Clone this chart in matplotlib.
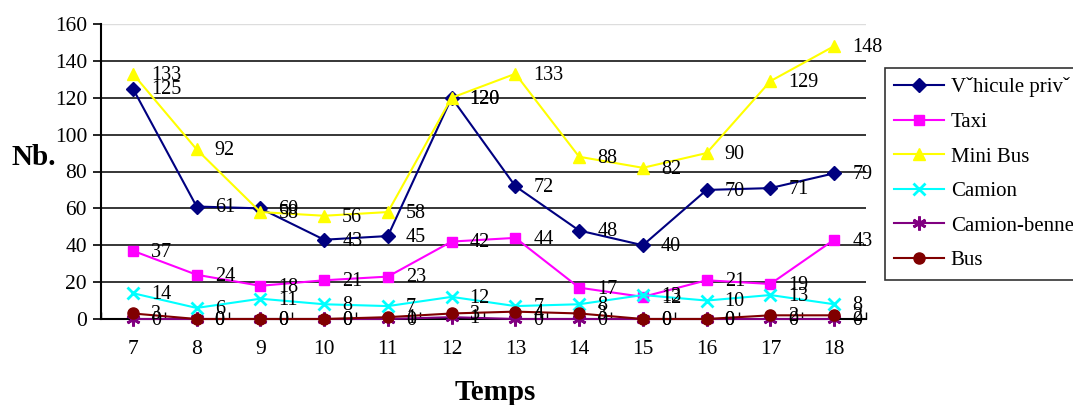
import matplotlib
matplotlib.use("Agg")
import matplotlib.pyplot as plt
import numpy as np

plt.rcParams["font.family"] = ["Liberation Serif", "DejaVu Serif"]

hours = [7, 8, 9, 10, 11, 12, 13, 14, 15, 16, 17, 18]

vehicule_prive = [125, 61, 60, 43, 45, 120, 72, 48, 40, 70, 71, 79]
taxi = [37, 24, 18, 21, 23, 42, 44, 17, 12, 21, 19, 43]
mini_bus = [133, 92, 58, 56, 58, 120, 133, 88, 82, 90, 129, 148]
camion = [14, 6, 11, 8, 7, 12, 7, 8, 13, 10, 13, 8]
camion_benne = [0, 0, 0, 0, 0, 1, 0, 0, 0, 0, 0, 0]
bus = [3, 0, 0, 0, 1, 3, 4, 3, 0, 0, 2, 2]

series = [
    ("V\u02c7hicule priv\u02c7", vehicule_prive, "#000080", "D", 7),
    ("Taxi", taxi, "#FF00FF", "s", 7),
    ("Mini Bus", mini_bus, "#FFFF00", "^", 9),
    ("Camion", camion, "#00FFFF", "x", 9),
    ("Camion-benne", camion_benne, "#800080", (6, 2, 0), 10),
    ("Bus", bus, "#800000", "o", 8),
]

fig = plt.figure(figsize=(10.73, 4.05), dpi=100)
ax = fig.add_axes([101 / 1073, 1 - 319 / 405, 765 / 1073, 295 / 405])

x = np.arange(len(hours))
for name, vals, color, marker, ms in series:
    ax.plot(x, vals, color=color, marker=marker, markersize=ms, lw=1.5,
            markeredgewidth=2 if marker in ("x", (6, 2, 0)) else 1,
            label=name, clip_on=False, zorder=3)
    for xi, v in zip(x, vals):
        ax.annotate(str(v), (xi, v), xytext=(13, -1), textcoords="offset points",
                    ha="left", va="center", fontsize=14.5, zorder=4)

ax.set_xlim(-0.5, len(hours) - 0.5)
ax.set_ylim(0, 160)
ax.set_yticks(range(0, 161, 20))
ax.set_xticks(x)
ax.set_xticklabels([str(h) for h in hours])
ax.set_xticks(np.arange(-0.5, len(hours), 1), minor=True)
ax.tick_params(axis="x", which="major", length=0, labelsize=15.5, pad=15)
ax.tick_params(axis="x", which="minor", direction="in", length=5, width=1)
ax.tick_params(axis="y", direction="out", length=6, width=1.2, labelsize=15.5, pad=4)

for v in range(20, 160, 20):
    ax.axhline(v, color="black", lw=1.1, zorder=1)
ax.axhline(160, color="#dddddd", lw=1, zorder=1)

for side in ("top", "right"):
    ax.spines[side].set_visible(False)
ax.spines["left"].set_linewidth(1.5)
ax.spines["bottom"].set_linewidth(1.5)

fig.text(12 / 1073, 1 - 157 / 405, "Nb.", fontsize=21, fontweight="bold",
         ha="left", va="center")
fig.text(495 / 1073, 1 - 393 / 405, "Temps", fontsize=21, fontweight="bold",
         ha="center", va="center")

leg = fig.legend(loc="upper left", bbox_to_anchor=(885 / 1073, 1 - 68 / 405),
                 fontsize=15, frameon=True, fancybox=False, edgecolor="black",
                 handlelength=2.4, labelspacing=0.72, borderpad=0.45,
                 handletextpad=0.3, borderaxespad=0)
leg.get_frame().set_linewidth(1.2)

fig.savefig("out.png", dpi=100)
